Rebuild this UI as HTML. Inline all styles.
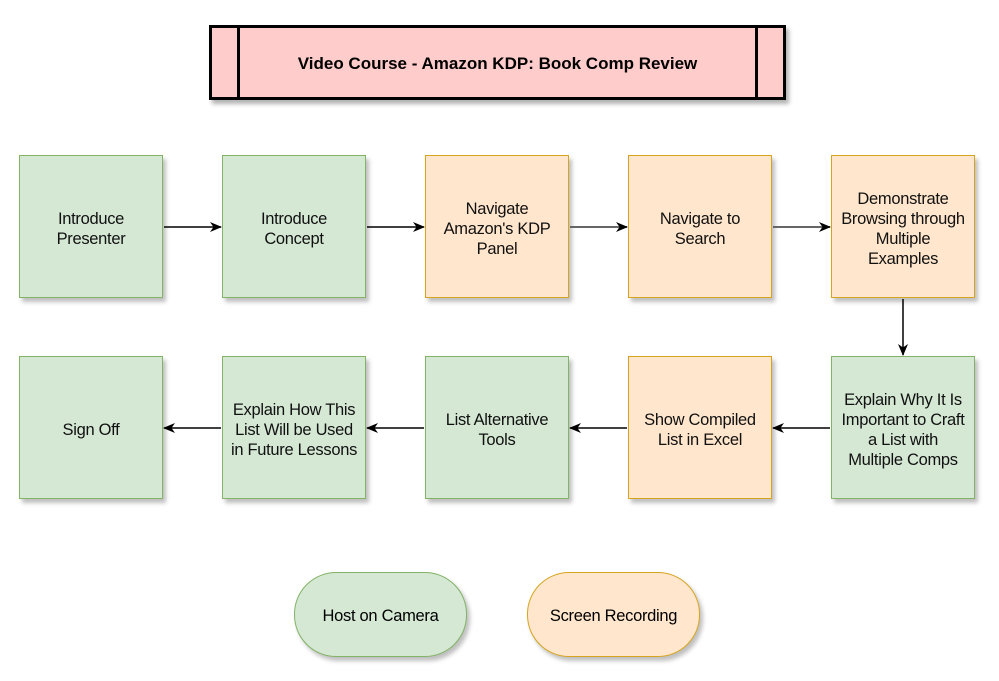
<!DOCTYPE html>
<html><head><meta charset="utf-8"><style>
body{margin:0;width:999px;height:681px;background:#fff;position:relative;overflow:hidden;font-family:"Liberation Sans",Arial,sans-serif}
.b{position:absolute;width:144px;height:143px;display:flex;align-items:center;justify-content:center;text-align:center;font-size:16.5px;line-height:20px;color:#111;box-sizing:border-box;box-shadow:3px 4px 4px rgba(0,0,0,0.25);padding-top:4px;letter-spacing:-0.3px}
.g{background:#d5e8d4;border:1.5px solid #82b366}
.o{background:#ffe6cc;border:1.5px solid #d6a520}
.r1{top:155px}.r2{top:356px}
.t{position:absolute;left:209px;top:25px;width:577px;height:75px;background:#ffcccc;border:3px solid #000;box-sizing:border-box;box-shadow:3px 4px 4px rgba(0,0,0,0.3);display:flex;align-items:center;justify-content:center;font-weight:bold;font-size:17px;padding-top:2px}
.t:before,.t:after{content:"";position:absolute;top:0;bottom:0;width:3px;background:#000}
.t:before{left:25px}.t:after{right:25px}
.p{position:absolute;top:572px;width:173px;height:85px;border-radius:42px;box-sizing:border-box;display:flex;align-items:center;justify-content:center;font-size:16.5px;letter-spacing:-0.3px;padding-top:3px;box-shadow:3px 4px 4px rgba(0,0,0,0.25)}
</style></head><body>
<div class="t">Video Course - Amazon KDP: Book Comp Review</div>
<div class="b g r1" style="left:19px">Introduce<br>Presenter</div>
<div class="b g r1" style="left:222px">Introduce<br>Concept</div>
<div class="b o r1" style="left:425px">Navigate<br>Amazon's KDP<br>Panel</div>
<div class="b o r1" style="left:628px">Navigate to<br>Search</div>
<div class="b o r1" style="left:831px">Demonstrate<br>Browsing through<br>Multiple<br>Examples</div>
<div class="b g r2" style="left:19px">Sign Off</div>
<div class="b g r2" style="left:222px">Explain How This<br>List Will be Used<br>in Future Lessons</div>
<div class="b g r2" style="left:425px">List Alternative<br>Tools</div>
<div class="b o r2" style="left:628px">Show Compiled<br>List in Excel</div>
<div class="b g r2" style="left:831px">Explain Why It Is<br>Important to Craft<br>a List with<br>Multiple Comps</div>
<div class="p g" style="left:294px">Host on Camera</div>
<div class="p o" style="left:527px">Screen Recording</div>
<svg width="999" height="681" style="position:absolute;left:0;top:0">
<defs><marker id="a" markerWidth="12" markerHeight="10" refX="11" refY="5" orient="auto" markerUnits="userSpaceOnUse"><path d="M0,0 L12,5 L0,10 L3.5,5z" fill="#000"/></marker></defs>
<g stroke="#000" stroke-width="1.5" fill="none" marker-end="url(#a)">
<line x1="164" y1="227" x2="221" y2="227"/>
<line x1="367" y1="227" x2="424" y2="227"/>
<line x1="570" y1="227" x2="627" y2="227" stroke="#666" stroke-width="2"/>
<line x1="773" y1="227" x2="830" y2="227" stroke="#666" stroke-width="2"/>
<line x1="903" y1="299" x2="903" y2="355"/>
<line x1="830" y1="428" x2="773" y2="428"/>
<line x1="627" y1="428" x2="570" y2="428"/>
<line x1="424" y1="428" x2="367" y2="428"/>
<line x1="221" y1="428" x2="164" y2="428"/>
</g></svg>
</body></html>
